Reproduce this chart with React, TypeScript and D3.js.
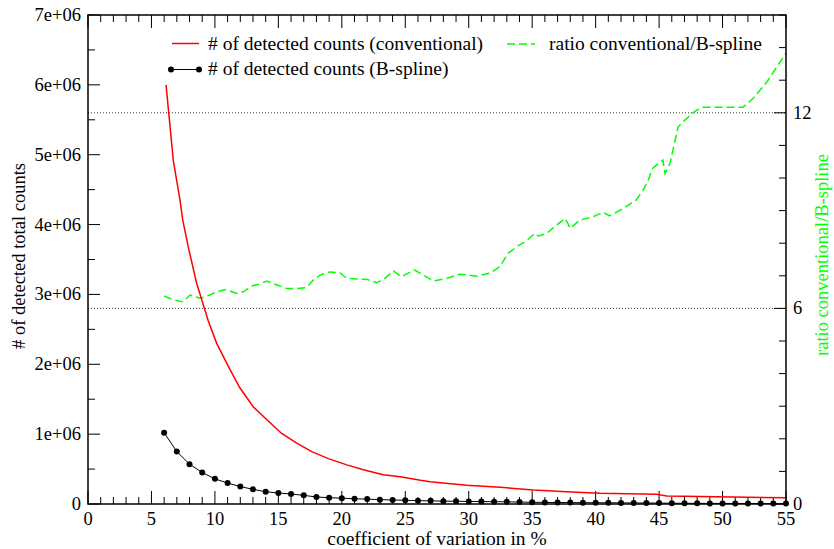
import React from "react";
import * as d3 from "d3";

const xTicks = [0, 5, 10, 15, 20, 25, 30, 35, 40, 45, 50, 55];
const yLeftTicks = [0, 1e6, 2e6, 3e6, 4e6, 5e6, 6e6, 7e6];
const yLeftLabels = ["0", "1e+06", "2e+06", "3e+06", "4e+06", "5e+06", "6e+06", "7e+06"];
const yRightTicks = [0, 6, 12];

const convCv = [6.15, 6.72, 7.25, 7.46, 7.9, 8.56, 9.09, 9.48, 10.14, 11.2, 11.98, 13.03, 13.95, 15.26, 16.45, 17.63, 18.94, 20.39, 21.7, 23.27, 24.6, 26.2, 26.95, 29.84, 32.47, 35.1, 37.7, 40.35, 44.8, 45.6, 50.8, 55];
const convCounts = [6.0e6, 4.92e6, 4.35e6, 4.07e6, 3.68e6, 3.16e6, 2.85e6, 2.62e6, 2.3e6, 1.92e6, 1.66e6, 1.39e6, 1.23e6, 1.01e6, 0.87e6, 0.75e6, 0.65e6, 0.56e6, 0.49e6, 0.42e6, 0.39e6, 0.34e6, 0.32e6, 0.27e6, 0.24e6, 0.2e6, 0.176e6, 0.153e6, 0.139e6, 0.115e6, 0.1e6, 0.09e6];

const bsCv = [6, 7, 8, 9, 10, 11, 12, 13, 14, 15, 16, 17, 18, 19, 20, 21, 22, 23, 24, 25, 26, 27, 28, 29, 30, 31, 32, 33, 34, 35, 36, 37, 38, 39, 40, 41, 42, 43, 44, 45, 46, 47, 48, 49, 50, 51, 52, 53, 54, 55];
const bsCounts = [1.02e6, 0.75e6, 0.57e6, 0.45e6, 0.36e6, 0.3e6, 0.25e6, 0.21e6, 0.176e6, 0.157e6, 0.143e6, 0.124e6, 0.1e6, 0.09e6, 0.083e6, 0.075e6, 0.07e6, 0.062e6, 0.058e6, 0.053e6, 0.048e6, 0.045e6, 0.041e6, 0.039e6, 0.037e6, 0.035e6, 0.033e6, 0.031e6, 0.028e6, 0.025e6, 0.023e6, 0.021e6, 0.02e6, 0.019e6, 0.018e6, 0.017e6, 0.016e6, 0.015e6, 0.014e6, 0.013e6, 0.011e6, 0.01e6, 0.009e6, 0.0085e6, 0.008e6, 0.0078e6, 0.0075e6, 0.007e6, 0.0065e6, 0.006e6];

const ratioCv = [6.0, 6.72, 7.5, 8.04, 8.83, 9.6, 10.14, 10.87, 11.7, 12.24, 12.9, 13.56, 14.08, 14.88, 15.66, 16.45, 17.23, 17.75, 18.28, 19.07, 19.86, 20.39, 21.17, 21.96, 22.75, 23.4, 24.06, 24.7, 25.7, 26.43, 27.2, 28.26, 29.3, 30.6, 31.66, 32.45, 33.1, 33.77, 34.55, 35.2, 35.5, 36.14, 36.93, 37.6, 38.0, 38.76, 39.8, 40.6, 41.1, 42.2, 43.2, 43.75, 44.15, 44.5, 45.3, 45.47, 45.86, 46.5, 46.9, 47.8, 48.35, 51.6, 52.4, 53.5, 55];
const ratioVals = [6.38, 6.26, 6.2, 6.41, 6.31, 6.41, 6.51, 6.58, 6.46, 6.51, 6.69, 6.75, 6.84, 6.72, 6.61, 6.61, 6.64, 6.87, 7.02, 7.12, 7.09, 6.92, 6.9, 6.89, 6.79, 6.92, 7.15, 6.97, 7.18, 7.02, 6.84, 6.92, 7.05, 6.99, 7.08, 7.28, 7.69, 7.89, 8.07, 8.3, 8.22, 8.3, 8.56, 8.76, 8.46, 8.71, 8.81, 8.95, 8.84, 9.07, 9.33, 9.63, 9.94, 10.3, 10.55, 10.14, 10.45, 11.57, 11.73, 12.04, 12.17, 12.17, 12.44, 12.95, 13.83];

const legendLabels = ["# of detected counts (conventional)", "# of detected counts (B-spline)", "ratio conventional/B-spline"];

const W = 834, H = 549;
const L = 88, R = 786, T = 15, B = 504;
const FONT = "'Liberation Serif', 'Times New Roman', serif";
const FS = 18.5;
const FS_BIG = 19.5;

export default function App() {
  const x = d3.scaleLinear().domain([0, 55]).range([L, R]);
  const yL = d3.scaleLinear().domain([0, 7e6]).range([B, T]);
  const yR = d3.scaleLinear().domain([0, 15]).range([B, T]);

  const conv = convCv.map((c, i) => [c, convCounts[i]] as [number, number]);
  const bs = bsCv.map((c, i) => [c, bsCounts[i]] as [number, number]);
  const ratio = ratioCv.map((c, i) => [c, ratioVals[i]] as [number, number]);

  const lineL = d3.line<[number, number]>().x(d => x(d[0])).y(d => yL(d[1]));
  const lineR = d3.line<[number, number]>().x(d => x(d[0])).y(d => yR(d[1]));

  const xMinor = d3.range(0, 56, 1);
  const yLMinor = d3.range(0, 7e6 + 1, 5e5);
  const yRMinor = d3.range(0, 16, 1);

  const ts: React.CSSProperties = { fontFamily: FONT, fontSize: FS };
  const tsBig: React.CSSProperties = { fontFamily: FONT, fontSize: FS_BIG };

  return (
    <svg width={W} height={H} style={{ position: "absolute", left: 0, top: 0, background: "#fff", fontFamily: FONT }}>
      <rect x={0} y={0} width={W} height={H} fill="#fff" />
      {yRightTicks.filter(v => v > 0).map(v => (
        <line key={"g" + v} x1={L} x2={R} y1={yR(v)} y2={yR(v)} stroke="#333" strokeWidth={1} strokeDasharray="1,2" />
      ))}
      {xMinor.map(v => {
        const major = v % 5 === 0;
        const len = major ? 13 : 7;
        return (
          <g key={"xt" + v}>
            <line x1={x(v)} x2={x(v)} y1={B} y2={B - len} stroke="#000" strokeWidth={1} />
            <line x1={x(v)} x2={x(v)} y1={T} y2={T + len} stroke="#000" strokeWidth={1} />
          </g>
        );
      })}
      {yLMinor.map(v => {
        const major = v % 1e6 === 0;
        const len = major ? 12 : 7;
        return <line key={"ylt" + v} x1={L} x2={L + len} y1={yL(v)} y2={yL(v)} stroke="#000" strokeWidth={1} />;
      })}
      {yRMinor.map(v => {
        const major = v % 6 === 0;
        const len = major ? 12 : 7;
        return <line key={"yrt" + v} x1={R} x2={R - len} y1={yR(v)} y2={yR(v)} stroke="#000" strokeWidth={1} />;
      })}
      <path d={lineR(ratio) || ""} fill="none" stroke="#00ff00" strokeWidth={1.5} strokeDasharray="8,4" />
      <path d={lineL(conv) || ""} fill="none" stroke="#ff0000" strokeWidth={1.5} />
      <path d={lineL(bs) || ""} fill="none" stroke="#000" strokeWidth={1} />
      {bs.map((d, i) => (
        <circle key={"c" + i} cx={x(d[0])} cy={yL(d[1])} r={3} fill="#000" />
      ))}
      <rect x={L} y={T} width={R - L} height={B - T} fill="none" stroke="#000" strokeWidth={1.5} />
      {xTicks.map(v => (
        <text key={"xl" + v} x={x(v)} y={525} textAnchor="middle" style={ts} fill="#000">{v}</text>
      ))}
      {yLeftTicks.map((v, i) => (
        <text key={"yll" + v} x={81} y={yL(v) + 6} textAnchor="end" style={ts} fill="#000">{yLeftLabels[i]}</text>
      ))}
      {yRightTicks.map(v => (
        <text key={"yrl" + v} x={793} y={yR(v) + 6} textAnchor="start" style={ts} fill="#000">{v}</text>
      ))}
      <text x={(L + R) / 2} y={545} textAnchor="middle" style={tsBig} fill="#000">coefficient of variation in %</text>
      <text transform={`translate(25,256) rotate(-90)`} textAnchor="middle" style={ts} fill="#000"># of detected total counts</text>
      <text transform={`translate(828,255) rotate(-90)`} textAnchor="middle" style={ts} fill="#00ff00">ratio conventional/B-spline</text>
      <line x1={172} x2={199} y1={43.5} y2={43.5} stroke="#ff0000" strokeWidth={1.5} />
      <text x={208} y={50} style={tsBig} fill="#000">{legendLabels[0]}</text>
      <line x1={171} x2={199} y1={69.5} y2={69.5} stroke="#000" strokeWidth={1} />
      <circle cx={171} cy={69.5} r={3} fill="#000" />
      <circle cx={199} cy={69.5} r={3} fill="#000" />
      <text x={208} y={75} style={tsBig} fill="#000">{legendLabels[1]}</text>
      <line x1={507} x2={535} y1={44} y2={44} stroke="#00ff00" strokeWidth={1.5} strokeDasharray="8,4" />
      <text x={549} y={50} style={tsBig} fill="#000">{legendLabels[2]}</text>
    </svg>
  );
}
